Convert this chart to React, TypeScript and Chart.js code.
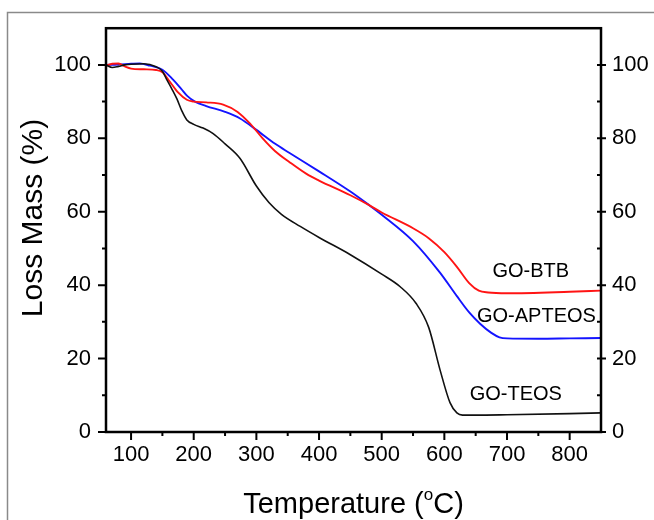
import React, { useEffect, useRef } from "react";
import { Chart, registerables } from "chart.js";

Chart.register(...registerables);

// ---------- data ----------
const teosTemp = [60, 70, 80, 90, 100, 120, 140, 150, 157, 165, 173, 181, 189, 200, 215, 231, 250, 274, 300, 320, 340, 370, 400, 450, 500, 530, 555, 575, 593, 609, 620, 629, 650, 700, 800, 850];
const teosMass = [100, 99.3, 99.6, 100, 100.2, 100.3, 99.5, 98.3, 96, 93.5, 90.8, 87.5, 85, 83.8, 82.8, 81.3, 78.5, 74.5, 67, 62.5, 59.3, 56, 53, 48.3, 43, 39.5, 35, 28.5, 17, 8, 5.2, 4.6, 4.6, 4.7, 5, 5.2];

const btbTemp = [60, 70, 80, 90, 100, 120, 140, 150, 162, 175, 189, 200, 220, 247, 270, 290, 310, 330, 353, 380, 400, 450, 480, 500, 550, 575, 600, 620, 640, 655, 670, 700, 800, 850];
const btbMass = [99.8, 100.3, 100.4, 99.6, 99, 98.8, 98.6, 98, 95.4, 92.5, 90.5, 90, 89.8, 89.2, 87.2, 84, 80, 76.5, 73.5, 70.3, 68.5, 64.5, 61.8, 59.8, 55.5, 52.8, 49, 45, 40.5, 38.5, 38, 37.8, 38.2, 38.5];

const apteosTemp = [60, 80, 100, 114, 130, 150, 167, 180, 190, 202, 220, 250, 274, 300, 330, 353, 400, 450, 480, 500, 550, 593, 620, 640, 657, 675, 688, 700, 750, 800, 850];
const apteosMass = [100, 100.1, 100.3, 100.4, 99.8, 98.7, 96, 93.5, 91.5, 90, 88.8, 87.2, 85.4, 82.3, 78.5, 76, 71, 65.5, 61.8, 59.2, 52, 43.4, 37, 32.5, 29.5, 27, 25.8, 25.5, 25.4, 25.5, 25.6];

const xTickValues = [100, 200, 300, 400, 500, 600, 700, 800];
const xMinorValues = [150, 250, 350, 450, 550, 650, 750];
const yTickValues = [0, 20, 40, 60, 80, 100];
const yMinorValues = [10, 30, 50, 70, 90];

const seriesNames = ["GO-TEOS", "GO-BTB", "GO-APTEOS"];
const seriesColors = ["#111111", "#ff1414", "#1414ff"];
const labelTemps = [714, 738, 747];
const labelMasses = [10.1, 43.6, 31.6];

const xTitleMain = "Temperature (";
const xTitleSup = "o";
const xTitleEnd = "C)";
const yTitle = "Loss Mass (%)";

const FONT = "'Liberation Sans', Arial, Helvetica, sans-serif";

const pts = (xs: number[], ys: number[]) => xs.map((x, i) => ({ x, y: ys[i] }));

const decorPlugin = {
  id: "decor",
  afterDraw(chart: any) {
    const { ctx, chartArea } = chart;
    const { left, right, top, bottom } = chartArea;
    const xs = chart.scales.x;
    const ys = chart.scales.y;
    ctx.save();

    // outer gray frame
    ctx.strokeStyle = "#8a8a8a";
    ctx.lineWidth = 1.5;
    ctx.beginPath();
    ctx.moveTo(7.5, 520);
    ctx.lineTo(7.5, 12.5);
    ctx.lineTo(654, 12.5);
    ctx.stroke();

    // plot box
    ctx.strokeStyle = "#000";
    ctx.lineWidth = 2.5;
    ctx.strokeRect(left, top, right - left, bottom - top);

    ctx.lineWidth = 2;
    ctx.beginPath();
    xTickValues.forEach((v) => {
      const p = xs.getPixelForValue(v);
      ctx.moveTo(p, bottom);
      ctx.lineTo(p, bottom + 8);
    });
    xMinorValues.forEach((v) => {
      const p = xs.getPixelForValue(v);
      ctx.moveTo(p, bottom);
      ctx.lineTo(p, bottom + 4);
    });
    yTickValues.forEach((v) => {
      const p = ys.getPixelForValue(v);
      ctx.moveTo(left - 8, p);
      ctx.lineTo(left, p);
      ctx.moveTo(right - 4, p);
      ctx.lineTo(right + 5, p);
    });
    yMinorValues.forEach((v) => {
      const p = ys.getPixelForValue(v);
      ctx.moveTo(left - 4, p);
      ctx.lineTo(left, p);
      ctx.moveTo(right - 4, p);
      ctx.lineTo(right, p);
    });
    ctx.stroke();

    // series labels
    ctx.fillStyle = "#000";
    ctx.font = `20px ${FONT}`;
    ctx.textAlign = "center";
    ctx.textBaseline = "middle";
    seriesNames.forEach((n, i) => {
      ctx.fillText(n, xs.getPixelForValue(labelTemps[i]), ys.getPixelForValue(labelMasses[i]));
    });

    // x title with superscript
    const big = `29px ${FONT}`;
    const small = `17px ${FONT}`;
    ctx.textAlign = "left";
    ctx.textBaseline = "alphabetic";
    ctx.font = big;
    const w1 = ctx.measureText(xTitleMain).width;
    const w3 = ctx.measureText(xTitleEnd).width;
    ctx.font = small;
    const w2 = ctx.measureText(xTitleSup).width;
    const total = w1 + w2 + w3;
    let sx = (left + right) / 2 - total / 2;
    const base = 513;
    ctx.font = big;
    ctx.fillText(xTitleMain, sx, base);
    sx += w1;
    ctx.font = small;
    ctx.fillText(xTitleSup, sx, base - 13);
    sx += w2;
    ctx.font = big;
    ctx.fillText(xTitleEnd, sx, base);

    // y title
    ctx.translate(34, 218);
    ctx.rotate(-Math.PI / 2);
    ctx.textAlign = "center";
    ctx.textBaseline = "middle";
    ctx.font = `30px ${FONT}`;
    ctx.fillText(yTitle, 0, 0);

    ctx.restore();
  },
};

export default function App() {
  const ref = useRef<HTMLCanvasElement | null>(null);

  useEffect(() => {
    if (!ref.current) return;
    const tickFont = { family: FONT, size: 22 };
    const noGrid = { display: false, drawTicks: false, tickLength: 0 };
    const chart = new Chart(ref.current, {
      type: "line",
      data: {
        datasets: [
          { label: seriesNames[0], data: pts(teosTemp, teosMass), borderColor: seriesColors[0], borderWidth: 1.6, pointRadius: 0, cubicInterpolationMode: "monotone", fill: false },
          { label: seriesNames[1], data: pts(btbTemp, btbMass), borderColor: seriesColors[1], borderWidth: 1.9, pointRadius: 0, cubicInterpolationMode: "monotone", fill: false },
          { label: seriesNames[2], data: pts(apteosTemp, apteosMass), borderColor: seriesColors[2], borderWidth: 1.9, pointRadius: 0, cubicInterpolationMode: "monotone", fill: false },
        ],
      },
      options: {
        animation: false,
        responsive: false,
        devicePixelRatio: 1,
        layout: { padding: { top: 28, left: 0, right: 0, bottom: 0 } },
        plugins: { legend: { display: false }, tooltip: { enabled: false } },
        scales: {
          x: {
            type: "linear",
            position: "bottom",
            min: 60,
            max: 850,
            grid: noGrid,
            border: { display: false },
            afterBuildTicks: (s: any) => {
              s.ticks = xTickValues.map((v) => ({ value: v }));
            },
            afterFit: (s: any) => {
              s.height = 88;
            },
            ticks: { font: tickFont, color: "#000", padding: 10, maxRotation: 0, autoSkip: false },
          },
          y: {
            type: "linear",
            position: "left",
            min: 0,
            max: 110,
            grid: noGrid,
            border: { display: false },
            afterBuildTicks: (s: any) => {
              s.ticks = yTickValues.map((v) => ({ value: v }));
            },
            afterFit: (s: any) => {
              s.width = 106;
            },
            ticks: { font: tickFont, color: "#000", padding: 15, autoSkip: false },
          },
          y2: {
            type: "linear",
            position: "right",
            min: 0,
            max: 110,
            grid: noGrid,
            border: { display: false },
            afterBuildTicks: (s: any) => {
              s.ticks = yTickValues.map((v) => ({ value: v }));
            },
            afterFit: (s: any) => {
              s.width = 53;
            },
            ticks: { font: tickFont, color: "#000", padding: 11, autoSkip: false },
          },
        },
      } as any,
      plugins: [decorPlugin],
    });
    return () => chart.destroy();
  }, []);

  return (
    <div style={{ position: "absolute", left: 0, top: 0, width: 654, height: 520, background: "#fff" }}>
      <canvas ref={ref} width={654} height={520} style={{ display: "block", width: 654, height: 520 }} />
    </div>
  );
}
